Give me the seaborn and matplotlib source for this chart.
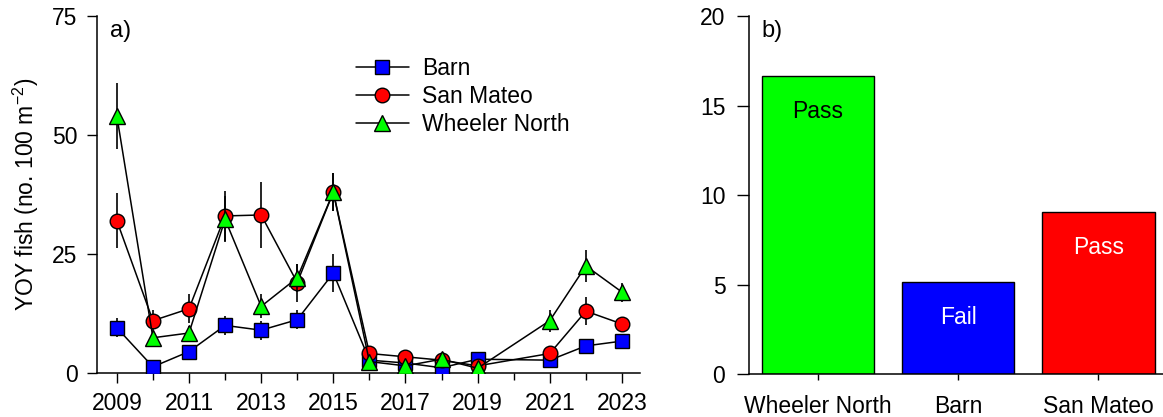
import matplotlib
matplotlib.use("Agg")
import matplotlib.pyplot as plt
import seaborn as sns
import pandas as pd
import numpy as np

sns.set_style("ticks")
plt.rcParams['font.family'] = ['Liberation Sans', 'DejaVu Sans']
plt.rcParams['mathtext.default'] = 'regular'
plt.rcParams['text.color'] = 'black'
plt.rcParams['axes.labelcolor'] = 'black'
plt.rcParams['xtick.color'] = 'black'
plt.rcParams['ytick.color'] = 'black'
plt.rcParams['axes.edgecolor'] = 'black'

years = [2009, 2010, 2011, 2012, 2013, 2014, 2015, 2016, 2017, 2018, 2019, 2021, 2022, 2023]
barn = [9.5, 1.3, 4.5, 10.0, 9.0, 11.2, 21.0, 2.7, 2.1, 1.1, 2.9, 2.7, 5.7, 6.7]
barn_se = [2.0, 0.5, 1.0, 2.0, 2.0, 2.0, 4.0, 0.5, 0.5, 0.3, 0.5, 0.5, 1.0, 1.5]
san_mateo = [32.0, 11.0, 13.5, 33.0, 33.2, 19.0, 38.0, 4.1, 3.4, 2.7, 1.5, 4.1, 13.0, 10.3]
san_mateo_se = [5.8, 2.3, 3.0, 5.2, 7.0, 4.0, 4.0, 1.0, 0.8, 0.6, 0.5, 0.8, 3.0, 1.5]
wheeler = [54.0, 7.4, 8.4, 32.3, 14.0, 20.0, 38.0, 2.4, 1.5, 2.9, 1.0, 11.0, 22.5, 17.0]
wheeler_se = [7.0, 1.5, 1.5, 4.8, 2.5, 3.0, 4.0, 0.6, 0.5, 0.6, 0.3, 2.3, 3.3, 2.0]

sites = ['Wheeler North', 'Barn', 'San Mateo']
site_vals = [16.65, 5.15, 9.06]
site_status = ['Pass', 'Fail', 'Pass']
status_colors = ['black', 'white', 'white']
site_colors = ['#00FF00', '#0000FF', '#FF0000']

fig = plt.figure(figsize=(11.63, 4.17), dpi=100)
ax1 = fig.add_axes([0.0834, 0.1055, 0.4669, 0.8561])
ax2 = fig.add_axes([0.644, 0.103, 0.356, 0.8586])

series = [('Barn', barn, barn_se, 's', '#0000FF', 9.5),
          ('San Mateo', san_mateo, san_mateo_se, 'o', '#FF0000', 10.5),
          ('Wheeler North', wheeler, wheeler_se, '^', '#00FF00', 11)]

for i, (name, vals, se, mk, col, ms) in enumerate(series):
    df = pd.DataFrame({'year': years, 'val': vals})
    ax1.errorbar(years, vals, yerr=se, fmt='none', ecolor='black', elinewidth=1.2,
                 capsize=0, zorder=2 + i)
    sns.lineplot(data=df, x='year', y='val', ax=ax1, color='black', lw=1.1,
                 marker=mk, markersize=ms, markerfacecolor=col, markeredgecolor='black',
                 markeredgewidth=1.0, label=name, zorder=3 + i, errorbar=None)

ax1.set_xlim(2008.45, 2023.5)
ax1.set_ylim(0, 75)
ax1.set_yticks([0, 25, 50, 75])
ax1.set_xticks(list(range(2009, 2024, 2)))
ax1.set_xticks(list(range(2010, 2024, 2)), minor=True)
ax1.tick_params(axis='both', which='major', labelsize=16.5, length=7, width=1, direction='out',
                color='black', labelcolor='black')
ax1.tick_params(axis='x', which='major', pad=7)
ax1.tick_params(axis='y', which='major', pad=7)
ax1.tick_params(axis='x', which='minor', length=5, width=1, direction='out', color='black')
ax1.set_xlabel('')
ax1.set_ylabel('YOY fish (no. 100 m$^{-2}$)', fontsize=16.5, labelpad=8, color='black')
sns.despine(ax=ax1)
for s in ['left', 'bottom']:
    ax1.spines[s].set_linewidth(1.1)
    ax1.spines[s].set_color('black')
ax1.text(0.024, 0.99, 'a)', transform=ax1.transAxes, fontsize=17, va='top', ha='left', color='black')
leg = ax1.legend(loc='upper left', bbox_to_anchor=(0.477, 0.886), frameon=False, fontsize=16.5,
                 handlelength=2.3, handletextpad=0.6, labelspacing=0.23, borderpad=0,
                 borderaxespad=0, labelcolor='black')

bdf = pd.DataFrame({'site': sites, 'val': site_vals})
sns.barplot(data=bdf, x='site', y='val', hue='site', palette=site_colors, ax=ax2,
            width=0.8, edgecolor='black', linewidth=1.0, legend=False, saturation=1)
for i, (v, st, tc) in enumerate(zip(site_vals, site_status, status_colors)):
    ax2.text(i, v - 2.0, st, ha='center', va='center', fontsize=16.5, color=tc)
ax2.set_xlim(-0.49, 2.46)
ax2.set_ylim(0, 20)
ax2.set_yticks([0, 5, 10, 15, 20])
ax2.tick_params(axis='y', labelsize=16.5, length=9, width=1, direction='out', pad=8,
                color='black', labelcolor='black')
ax2.tick_params(axis='x', labelsize=16.5, length=4, width=1, direction='out', pad=11,
                color='black', labelcolor='black')
ax2.set_xlabel('')
ax2.set_ylabel('')
sns.despine(ax=ax2)
for s in ['left', 'bottom']:
    ax2.spines[s].set_linewidth(1.1)
    ax2.spines[s].set_color('black')
ax2.text(0.031, 0.99, 'b)', transform=ax2.transAxes, fontsize=17, va='top', ha='left', color='black')

fig.savefig('out.png', dpi=100)
